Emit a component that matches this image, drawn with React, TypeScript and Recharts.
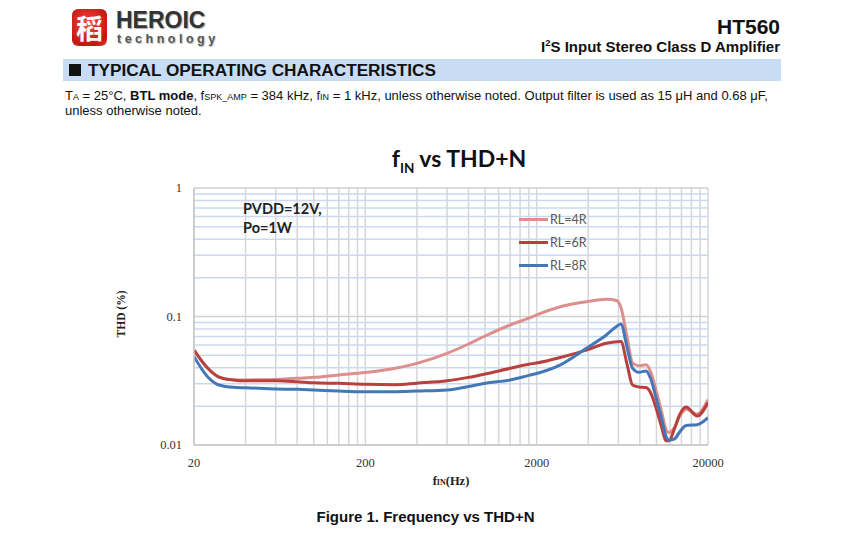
import React from 'react'
import { LineChart, Line, XAxis, YAxis, ReferenceLine, Legend } from 'recharts'

// frequency points (Hz)
const freqHz = [20, 24, 28, 34, 40, 60, 80, 100, 140, 200, 300, 400, 600, 800, 1000, 1400, 1800, 2000, 2750, 3900, 5100, 5900, 6200, 6750, 7250, 7900, 8700, 9250, 10000, 10750, 11350, 11850, 12700, 13700, 14900, 17300, 20000]

// THD+N (%)
const thd4R = [0.0548, 0.0397, 0.0338, 0.0321, 0.0321, 0.0324, 0.033, 0.0336, 0.0351, 0.0366, 0.0395, 0.0432, 0.0517, 0.0611, 0.0705, 0.0859, 0.097, 0.103, 0.1192, 0.1303, 0.1361, 0.1327, 0.118, 0.0686, 0.0435, 0.0413, 0.0421, 0.0372, 0.0259, 0.0179, 0.0133, 0.0125, 0.0136, 0.0168, 0.019, 0.0174, 0.0225]
const thd6R = [0.0548, 0.0397, 0.0338, 0.0321, 0.0316, 0.0316, 0.0311, 0.0305, 0.0302, 0.0297, 0.0295, 0.0303, 0.0316, 0.0336, 0.0357, 0.0395, 0.0425, 0.0435, 0.048, 0.0548, 0.0619, 0.0637, 0.0638, 0.0421, 0.0293, 0.0283, 0.028, 0.0255, 0.019, 0.0136, 0.0108, 0.0108, 0.0132, 0.0174, 0.0198, 0.0168, 0.0214]
const thd8R = [0.0487, 0.034, 0.0293, 0.0281, 0.0279, 0.0273, 0.0271, 0.0268, 0.0263, 0.026, 0.026, 0.0263, 0.0268, 0.0285, 0.0302, 0.0321, 0.0348, 0.036, 0.042, 0.0566, 0.0718, 0.0844, 0.0874, 0.0571, 0.0397, 0.0368, 0.0377, 0.0329, 0.0228, 0.0158, 0.0118, 0.0109, 0.0111, 0.0127, 0.0142, 0.0144, 0.0163]

const seriesNames = ['RL=4R', 'RL=6R', 'RL=8R']
const seriesColors = ['#dc8f8d', '#b8403d', '#4477b8']

const xTicks = [20, 200, 2000, 20000]
const yTicks = [0.01, 0.1, 1]
const yTickLabels = ['0.01', '0.1', '1']

// excel-style log gridlines: every multiple inside each decade
const xDecades = [20, 200, 2000]
const yDecades = [0.01, 0.1]
const multiples = [1, 2, 3, 4, 5, 6, 7, 8, 9]
const xGrid = [...xDecades.flatMap(d => multiples.map(m => d * m)), 20000]
const yMinor = yDecades.flatMap(d => multiples.slice(1).map(m => +(d * m).toFixed(3)))

const rows = freqHz.map((f, i) => ({
  f,
  [seriesNames[0]]: thd4R[i],
  [seriesNames[1]]: thd6R[i],
  [seriesNames[2]]: thd8R[i],
}))

const serif = '"Liberation Serif", "DejaVu Serif", serif'
const sans = '"Liberation Sans", Arial, sans-serif'
const calibri = 'Lato, "Open Sans", sans-serif'

const LegendBox = ({ payload }: any) => (
  <div style={{ fontFamily: calibri, fontSize: 12.5, color: '#595959' }}>
    {(payload || []).map((p: any) => (
      <div key={p.value} style={{ display: 'flex', alignItems: 'center', height: 23 }}>
        <span style={{ display: 'inline-block', width: 29, height: 3, background: p.color, marginRight: 2 }} />
        <span>{p.value}</span>
      </div>
    ))}
  </div>
)

const abs = (style: React.CSSProperties): React.CSSProperties => ({ position: 'absolute', margin: 0, whiteSpace: 'nowrap', ...style })

export default function App() {
  return (
    <div style={{ position: 'relative', width: 850, height: 537, margin: -8, background: '#fff', overflow: 'hidden' }}>
      {/* header */}
      <div style={abs({ left: 72, top: 9, width: 35, height: 37, borderRadius: 6, background: 'radial-gradient(circle at 45% 40%, #f04a3a, #c2160f 75%, #d9544a)', color: '#fff', fontFamily: '"Noto Sans CJK SC", sans-serif', fontSize: 27, lineHeight: '37px', textAlign: 'center', fontWeight: 700 })}>稻</div>
      <div style={abs({ left: 116, top: 9, fontFamily: sans, fontWeight: 700, fontSize: 23, lineHeight: 1, color: '#333', textShadow: '1px 1px 1px #aaa' })}>HEROIC</div>
      <div style={abs({ left: 117, top: 33, fontFamily: sans, fontWeight: 700, fontSize: 12.5, lineHeight: 1, letterSpacing: 3.5, color: '#555', textShadow: '1px 1px 1px #bbb' })}>technology</div>
      <div style={abs({ right: 70, top: 16, fontFamily: sans, fontWeight: 700, fontSize: 21, lineHeight: 1, color: '#111' })}>HT560</div>
      <div style={abs({ right: 70, top: 38, fontFamily: sans, fontWeight: 700, fontSize: 15, lineHeight: 1, color: '#111' })}>I<sup style={{ fontSize: 9.5 }}>2</sup>S Input Stereo Class D Amplifier</div>
      <div style={abs({ left: 63, top: 59, width: 718, height: 22, background: '#c8dcf4' })} />
      <div style={abs({ left: 69, top: 64, width: 12, height: 12, background: '#111' })} />
      <div style={abs({ left: 88, top: 61, fontFamily: sans, fontWeight: 700, fontSize: 17.2, lineHeight: '19px', color: '#111' })}>TYPICAL OPERATING CHARACTERISTICS</div>
      <div style={abs({ left: 65, top: 89, fontFamily: sans, fontSize: 13, lineHeight: '13px', color: '#111', whiteSpace: 'normal', width: 760 })}>
        T<span style={{ fontSize: 9 }}>A</span> = 25°C, <b>BTL mode</b>, f<span style={{ fontSize: 9 }}>SPK_AMP</span> = 384 kHz, f<span style={{ fontSize: 9 }}>IN</span> = 1 kHz, unless otherwise noted. Output filter is used as 15 μH and 0.68 μF,<br />unless otherwise noted.
      </div>

      {/* chart */}
      <div style={abs({ left: 0, top: 0 })}>
        <LineChart width={850} height={537} data={rows} margin={{ top: 188, right: 142, bottom: 62, left: 134 }}>
          {xGrid.map(v => (
            <ReferenceLine key={'vx' + v} x={v} stroke="#d6d6d6" strokeWidth={1.5} ifOverflow="visible" />
          ))}
          {yMinor.map(v => (
            <ReferenceLine key={'hy' + v} y={v} stroke="#c9daf0" strokeWidth={1.5} ifOverflow="visible" />
          ))}
          {yTicks.map(v => (
            <ReferenceLine key={'my' + v} y={v} stroke="#d0d0d0" strokeWidth={1.5} ifOverflow="visible" />
          ))}
          <XAxis
            dataKey="f"
            type="number"
            scale="log"
            domain={[20, 20000]}
            ticks={xTicks}
            allowDataOverflow
            height={30}
            axisLine={{ stroke: '#c8c8c8', strokeWidth: 1.5 }}
            tickLine={false}
            tickSize={0}
            tickMargin={13}
            tick={{ fontFamily: serif, fontSize: 12.5, fill: '#333' }}
          />
          <YAxis
            type="number"
            scale="log"
            domain={[0.01, 1]}
            ticks={yTicks}
            allowDataOverflow
            width={60}
            axisLine={{ stroke: '#c8c8c8', strokeWidth: 1.5 }}
            tickLine={false}
            tickSize={0}
            tickMargin={12}
            tickFormatter={(v: number) => yTickLabels[yTicks.indexOf(v)] ?? String(v)}
            tick={{ fontFamily: serif, fontSize: 12.5, fill: '#333' }}
          />
          <Legend
            layout="vertical"
            align="center"
            verticalAlign="middle"
            wrapperStyle={{ top: 208, left: 519, width: 90 }}
            content={<LegendBox />}
          />
          {seriesNames.map((name, i) => (
            <Line
              key={name}
              type="monotone"
              dataKey={name}
              stroke={seriesColors[i]}
              strokeWidth={3}
              dot={false}
              isAnimationActive={false}
            />
          ))}
        </LineChart>
      </div>

      {/* chart texts */}
      <div style={abs({ left: 0, width: 918, top: 147, textAlign: 'center', fontFamily: calibri, fontWeight: 700, fontSize: 23, lineHeight: 1, color: '#111' })}>
        f<sub style={{ fontSize: 13.5 }}>IN</sub> vs THD+N
      </div>
      <div style={abs({ left: 243, top: 199, fontFamily: calibri, fontWeight: 700, fontSize: 14.5, lineHeight: '19px', color: '#222' })}>
        PVDD=12V,<br />Po=1W
      </div>
      <div style={abs({ left: 121, top: 314, transform: 'translate(-50%, -50%) rotate(-90deg)', fontFamily: serif, fontWeight: 700, fontSize: 11.5, color: '#222' })}>THD (%)</div>
      <div style={abs({ left: 0, width: 902, top: 475, textAlign: 'center', fontFamily: serif, fontWeight: 700, fontSize: 12.5, lineHeight: 1, color: '#222' })}>
        f<span style={{ fontSize: 8 }}>IN</span>(Hz)
      </div>
      <div style={abs({ left: 0, width: 851, top: 509, textAlign: 'center', fontFamily: sans, fontWeight: 700, fontSize: 15, lineHeight: 1, color: '#111' })}>
        Figure 1. Frequency vs THD+N
      </div>
    </div>
  )
}
